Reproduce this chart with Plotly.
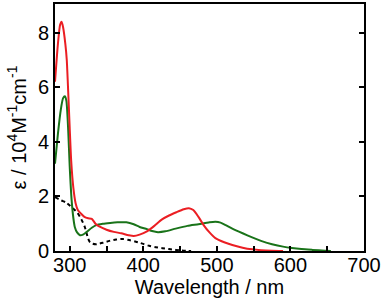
import plotly.graph_objects as go

# Red spectrum
red_wl = [280, 284, 287, 289, 291, 294, 296, 298, 300, 302, 305, 308, 311, 315, 320, 325, 330, 335, 340, 350,
          360, 370, 380, 387, 395, 405, 415, 425, 435, 445, 455, 462, 468, 475, 482, 490, 498, 510, 521, 535,
          548, 560, 575, 590]
red_eps = [6.2, 7.6, 8.3, 8.4, 8.2, 7.6, 7.0, 5.8, 4.5, 3.3, 2.3, 1.75, 1.5, 1.38, 1.25, 1.2, 1.18, 1.0, 0.9, 0.78,
           0.7, 0.65, 0.58, 0.55, 0.6, 0.72, 0.92, 1.15, 1.3, 1.42, 1.53, 1.57, 1.5, 1.25, 0.95, 0.68, 0.47, 0.32, 0.22, 0.12,
           0.06, 0.03, 0.01, 0.0]

# Green spectrum
green_wl = [280, 284, 288, 291, 293.5, 295.5, 298, 300, 302.5, 305, 307, 310, 314, 318, 323, 330, 336, 345, 355, 365,
            377, 387, 395, 405, 412, 420, 430, 444, 460, 475, 490, 498, 505, 512, 521, 535, 548, 560, 575, 590,
            602, 615, 630, 647, 655]
green_eps = [3.2, 4.3, 5.2, 5.6, 5.67, 5.5, 4.4, 3.1, 1.9, 1.2, 0.87, 0.68, 0.58, 0.6, 0.7, 0.85, 0.95, 1.0, 1.03, 1.05,
             1.05, 0.98, 0.88, 0.8, 0.73, 0.69, 0.72, 0.82, 0.92, 0.98, 1.05, 1.07, 1.04, 0.95, 0.82, 0.65, 0.5, 0.37, 0.25, 0.16,
             0.11, 0.07, 0.04, 0.01, 0.0]

# Black dashed spectrum
black_wl = [280, 285, 289, 295, 300, 306, 311, 316, 320.5, 324, 327, 331, 336, 345, 354, 363, 372, 381, 390, 400,
            408, 417, 426, 435, 444, 455, 465]
black_eps = [1.97, 1.9, 1.85, 1.78, 1.67, 1.52, 1.38, 1.15, 0.88, 0.55, 0.34, 0.27, 0.25, 0.3, 0.37, 0.42, 0.44, 0.4, 0.34, 0.26,
             0.19, 0.14, 0.1, 0.07, 0.04, 0.01, 0.0]

x_tickvals = [300, 350, 400, 450, 500, 550, 600, 650, 700]
x_ticktext = ["300", "", "400", "", "500", "", "600", "", "700"]
y_tickvals = [0, 2, 4, 6, 8]
y_ticktext = ["0", "2", "4", "6", "8"]

FONT = "Liberation Sans, Arial, sans-serif"
FS = 20

fig = go.Figure()
fig.add_trace(go.Scatter(x=black_wl, y=black_eps, mode="lines",
                         line=dict(color="black", width=2, dash="4px,3px", shape="spline", smoothing=0.6)))
fig.add_trace(go.Scatter(x=green_wl, y=green_eps, mode="lines",
                         line=dict(color="rgb(25,115,25)", width=2, shape="spline", smoothing=0.6)))
fig.add_trace(go.Scatter(x=red_wl, y=red_eps, mode="lines",
                         line=dict(color="rgb(235,30,35)", width=2, shape="spline", smoothing=0.6)))

fig.update_layout(
    width=383, height=304,
    margin=dict(l=55, r=17, t=2, b=53),
    plot_bgcolor="white", paper_bgcolor="white",
    showlegend=False,
    font=dict(family=FONT, size=FS, color="black"),
)
fig.update_xaxes(
    range=[280, 700], tickvals=x_tickvals, ticktext=x_ticktext,
    ticks="inside", ticklen=5, tickwidth=2, tickcolor="black",
    showline=True, linewidth=2, linecolor="black", mirror=True,
    showgrid=False, zeroline=False,
    tickfont=dict(family=FONT, size=FS), ticklabelstandoff=-5,
    title=dict(text="Wavelength / nm", font=dict(family=FONT, size=FS), standoff=2),
)
fig.update_yaxes(
    range=[0, 9.05], tickvals=y_tickvals, ticktext=y_ticktext,
    ticks="inside", ticklen=5, tickwidth=2, tickcolor="black",
    showline=True, linewidth=2, linecolor="black", mirror="ticks",
    showgrid=False, zeroline=False,
    tickfont=dict(family=FONT, size=FS),
    title=dict(text="ε / 10<sup>4</sup>M<sup>-1</sup>cm<sup>-1</sup>", font=dict(family=FONT, size=FS), standoff=6),
)

fig.write_html("out.html", config={"displayModeBar": False},
               post_script="document.body.style.margin='0';document.body.style.overflow='hidden';")
